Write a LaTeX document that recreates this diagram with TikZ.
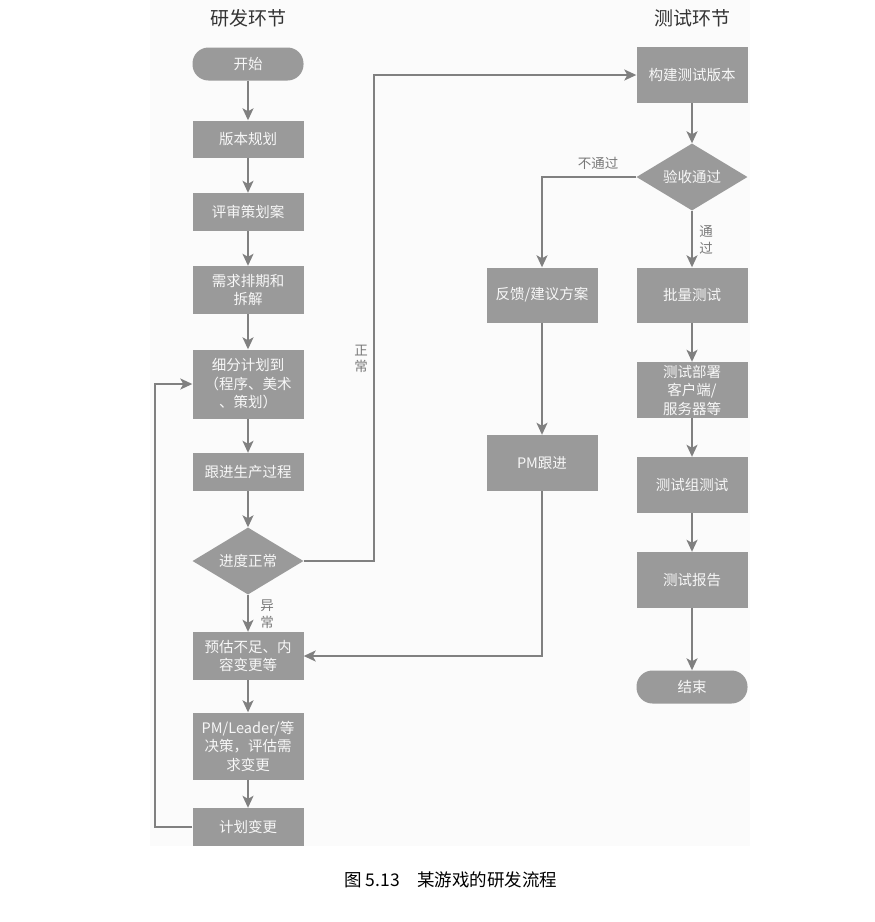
\documentclass[tikz,border=0pt]{standalone}
\usepackage{fontspec}
\setmainfont{Noto Sans CJK SC}
\usetikzlibrary{arrows.meta,shapes.geometric}
\definecolor{boxgray}{RGB}{154,154,154}
\definecolor{linegray}{RGB}{128,128,128}
\definecolor{labgray}{RGB}{120,120,120}
\begin{document}
\begin{tikzpicture}[x=1pt,y=-1pt,
 every node/.style={font=\fontsize{14.5}{18.5}\selectfont},
 box/.style={rectangle,fill=boxgray,text=white!94!gray,minimum width=111pt,align=center,inner sep=2pt},
 term/.style={box,rounded corners=16pt,minimum height=33pt},
 cond/.style={diamond,fill=boxgray,text=white!94!gray,minimum width=111pt,minimum height=67pt,inner sep=0pt,aspect=1.66},
 lab/.style={text=labgray,font=\fontsize{13.5}{16.5}\selectfont,align=center,inner sep=0pt},
 arr/.style={draw=linegray,line width=1.8pt,-{Stealth[length=12pt,width=11pt,inset=3pt]}},
 ln/.style={draw=linegray,line width=1.8pt}]
 \useasboundingbox (0,0) rectangle (875,922);
 \fill[white!98.5!black] (150,0) rectangle (750,846);
 % titles
 \node[font=\fontsize{19}{22}\selectfont,text=black!80] (devtitle) at (248,18) {研发环节};
 \node[font=\fontsize{19}{22}\selectfont,text=black!80] (testtitle) at (692,18) {测试环节};
 % development column
 \node[term] (start) at (248,64) {开始};
 \node[box,minimum height=37pt] (plan) at (248,139) {版本规划};
 \node[box,minimum height=38pt] (review) at (248,212) {评审策划案};
 \node[box,minimum height=48pt] (sched) at (248,290) {需求排期和\\拆解};
 \node[box,minimum height=69pt] (detail) at (248,384) {细分计划到\\（程序、美术\\、策划）};
 \node[box,minimum height=38pt] (follow) at (248,472) {跟进生产过程};
 \node[cond] (check) at (248,561) {进度正常};
 \node[box,minimum height=48pt] (estimate) at (248,656) {预估不足、内\\容变更等};
 \node[box,minimum height=67pt] (decide) at (248,746) {PM/Leader/等\\决策，评估需\\求变更};
 \node[box,minimum height=38pt] (change) at (248,827) {计划变更};
 % test column
 \node[box,minimum height=56pt] (build) at (692,75) {构建测试版本};
 \node[cond] (accept) at (692,177) {验收通过};
 \node[box,minimum height=55pt] (feedback) at (542,295) {反馈/建议方案};
 \node[box,minimum height=55pt] (batch) at (692,295) {批量测试};
 \node[box,minimum height=56pt] (deploy) at (692,390) {测试部署\\客户端/\\服务器等};
 \node[box,minimum height=56pt] (pmfollow) at (542,463) {PM跟进};
 \node[box,minimum height=56pt] (testgrp) at (692,485) {测试组测试};
 \node[box,minimum height=56pt] (report) at (692,580) {测试报告};
 \node[term] (finish) at (692,687) {结束};
 \coordinate (okturn) at (374,561);
 \coordinate (loopturn) at (155,827);
 % connectors
 \draw[arr] (start) -- (plan);
 \draw[arr] (plan) -- (review);
 \draw[arr] (review) -- (sched);
 \draw[arr] (sched) -- (detail);
 \draw[arr] (detail) -- (follow);
 \draw[arr] (follow) -- (check);
 \draw[arr] (check) -- (estimate);
 \draw[arr] (estimate) -- (decide);
 \draw[arr] (decide) -- (change);
 \draw[arr] (change.west) -- (loopturn) |- (detail.west);
 \draw[arr] (check.east) -- (okturn) |- (build.west);
 \draw[arr] (build) -- (accept);
 \draw[arr] (accept.west) -| (feedback.north);
 \draw[arr] (accept) -- (batch);
 \draw[arr] (batch) -- (deploy);
 \draw[arr] (deploy) -- (testgrp);
 \draw[arr] (testgrp) -- (report);
 \draw[arr] (report) -- (finish);
 \draw[arr] (feedback) -- (pmfollow);
 \draw[arr] (pmfollow.south) |- (estimate.east);
 % labels
 \node[lab] (oklab) at (361,359) {正\\常};
 \node[lab] (badlab) at (267,614) {异\\常};
 \node[lab] (faillab) at (598,163) {不通过};
 \node[lab] (passlab) at (706,240) {通\\过};
 % caption
 \node[font=\fontsize{17.5}{20}\selectfont] (caption) at (451,880) {图 5.13\quad 某游戏的研发流程};
\end{tikzpicture}
\end{document}
